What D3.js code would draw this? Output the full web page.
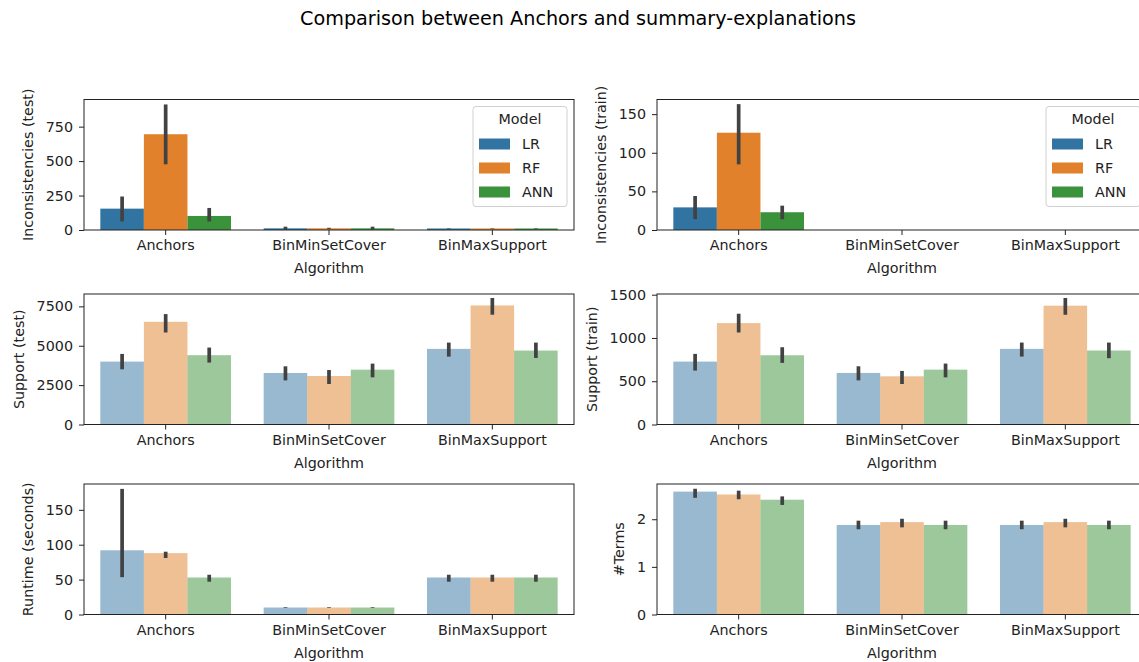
<!DOCTYPE html>
<html>
<head>
<meta charset="utf-8">
<script src="https://cdn.jsdelivr.net/npm/d3@7"></script>
<style>
  body { margin: 0; background: #fff; }
  svg { display: block; font-family: "DejaVu Sans", sans-serif; }
</style>
</head>
<body>
<svg id="chart" width="1139" height="662"></svg>
<script>
// ---- data ----
const algorithms = ["Anchors", "BinMinSetCover", "BinMaxSupport"];
const models = ["LR", "RF", "ANN"];

// values indexed [algorithm][model]
const incTestMean  = [[155, 695, 102], [12, 12, 12], [11, 11, 11]];
const incTestLow   = [[62, 477, 62], [4, 8, 4], [9, 9, 9]];
const incTestHigh  = [[243, 911, 160], [24, 16, 24], [13, 13, 13]];

const incTrainMean = [[29.3, 126, 23], [0, 0, 0], [0, 0, 0]];
const incTrainLow  = [[14, 85, 14], [0, 0, 0], [0, 0, 0]];
const incTrainHigh = [[44, 163, 31.5], [0, 0, 0], [0, 0, 0]];

const supTestMean  = [[3993, 6520, 4400], [3270, 3080, 3480], [4800, 7560, 4695]];
const supTestLow   = [[3505, 5840, 3930], [2800, 2570, 2995], [4310, 6970, 4225]];
const supTestHigh  = [[4480, 7010, 4885], [3695, 3460, 3865], [5200, 8030, 5200]];

const supTrainMean = [[727, 1172, 800], [596, 557, 634], [874, 1373, 855]];
const supTrainLow  = [[623, 1063, 712], [510, 468, 545], [785, 1268, 766]];
const supTrainHigh = [[816, 1280, 893], [673, 619, 704], [947, 1462, 947]];

const runMean = [[92, 88, 53], [10, 10, 10], [53, 53, 53]];
const runLow  = [[53.5, 81, 47], [9.5, 9.5, 9.5], [47, 47, 47]];
const runHigh = [[180, 90, 57], [10.5, 10.5, 10.5], [57, 57, 57]];

const termsMean = [[2.58, 2.52, 2.41], [1.88, 1.94, 1.88], [1.88, 1.94, 1.88]];
const termsLow  = [[2.45, 2.42, 2.30], [1.79, 1.83, 1.79], [1.79, 1.83, 1.79]];
const termsHigh = [[2.64, 2.60, 2.48], [1.97, 2.01, 1.97], [1.97, 2.01, 1.97]];

const yLabels = ["Inconsistencies (test)", "Inconsistencies (train)", "Support (test)",
                 "Support (train)", "Runtime (seconds)", "#Terms"];
const yTicks = [[0, 250, 500, 750], [0, 50, 100, 150], [0, 2500, 5000, 7500],
                [0, 500, 1000, 1500], [0, 50, 100, 150], [0, 1, 2]];
const yMax = [947, 169, 8285, 1508, 187, 2.74];
const xLabel = "Algorithm";
const legendTitle = "Model";
const title = "Comparison between Anchors and summary-explanations";

// ---- layout / style ----
const colors = ["#3274a1", "#e1812c", "#3a923a"];
const colLeft = [84, 657];
const axW = 490;
const rowTop = [99.5, 294, 484];
const axH = 130.5;
const fs = 14.3;

const svg = d3.select("#chart");

svg.append("text")
  .attr("x", 578).attr("y", 25)
  .attr("text-anchor", "middle")
  .attr("font-size", 19.2)
  .attr("fill", "#000")
  .text(title);

const panels = [
  {mean: incTestMean, low: incTestLow, high: incTestHigh, alpha: 1, legend: true},
  {mean: incTrainMean, low: incTrainLow, high: incTrainHigh, alpha: 1, legend: true},
  {mean: supTestMean, low: supTestLow, high: supTestHigh, alpha: 0.5, legend: false},
  {mean: supTrainMean, low: supTrainLow, high: supTrainHigh, alpha: 0.5, legend: false},
  {mean: runMean, low: runLow, high: runHigh, alpha: 0.5, legend: false},
  {mean: termsMean, low: termsLow, high: termsHigh, alpha: 0.5, legend: false}
];

panels.forEach((p, idx) => {
  const col = idx % 2, row = Math.floor(idx / 2);
  const x0 = colLeft[col], y0 = rowTop[row];
  const g = svg.append("g").attr("transform", `translate(${x0},${y0})`);

  const x = d3.scaleBand().domain(algorithms).range([0, axW]).paddingInner(0.2).paddingOuter(0.1);
  const xm = d3.scaleBand().domain(models).range([0, x.bandwidth()]);
  const y = d3.scaleLinear().domain([0, yMax[idx]]).range([axH, 0]);

  // bars
  algorithms.forEach((a, i) => {
    models.forEach((m, j) => {
      const v = p.mean[i][j];
      g.append("rect")
        .attr("x", x(a) + xm(m))
        .attr("width", xm.bandwidth())
        .attr("y", y(v))
        .attr("height", Math.max(0, y(0) - y(v)))
        .attr("fill", colors[j])
        .attr("fill-opacity", p.alpha);
    });
  });
  // error bars
  algorithms.forEach((a, i) => {
    models.forEach((m, j) => {
      const lo = p.low[i][j], hi = p.high[i][j];
      if (hi - lo <= 0) return;
      const cx = x(a) + xm(m) + xm.bandwidth() / 2;
      g.append("line")
        .attr("x1", cx).attr("x2", cx)
        .attr("y1", y(lo)).attr("y2", y(hi))
        .attr("stroke", "#424242")
        .attr("stroke-width", 3.7);
    });
  });

  // spines
  g.append("rect").attr("x", 0).attr("y", 0).attr("width", axW).attr("height", axH)
    .attr("fill", "none").attr("stroke", "#222").attr("stroke-width", 1);

  // x axis
  const xa = g.append("g").attr("transform", `translate(0,${axH})`)
    .call(d3.axisBottom(x).tickSize(5).tickPadding(5).tickSizeOuter(0));
  xa.select(".domain").remove();
  xa.selectAll("line").attr("stroke", "#222");
  xa.selectAll("text").attr("font-size", fs).attr("font-family", "DejaVu Sans").attr("fill", "#222");

  g.append("text")
    .attr("x", axW / 2).attr("y", axH + 43)
    .attr("text-anchor", "middle").attr("font-size", fs).attr("fill", "#222")
    .text(xLabel);

  // y axis
  const ya = g.append("g")
    .call(d3.axisLeft(y).tickValues(yTicks[idx]).tickFormat(d3.format("d")).tickSize(5).tickPadding(6).tickSizeOuter(0));
  ya.select(".domain").remove();
  ya.selectAll("line").attr("stroke", "#222");
  ya.selectAll("text").attr("font-size", fs).attr("font-family", "DejaVu Sans").attr("fill", "#222");

  let maxW = 0;
  ya.selectAll("text").each(function() { maxW = Math.max(maxW, this.getComputedTextLength()); });
  const labelX = -11 - maxW - 13;
  g.append("text")
    .attr("transform", `translate(${labelX},${axH / 2}) rotate(-90)`)
    .attr("text-anchor", "middle").attr("font-size", fs).attr("fill", "#222")
    .text(yLabels[idx]);

  // legend
  if (p.legend) {
    const lw = 94, lh = 100;
    const lx = axW - 7 - lw, ly = 7;
    const lg = g.append("g").attr("transform", `translate(${lx},${ly})`);
    lg.append("rect").attr("width", lw).attr("height", lh).attr("rx", 3)
      .attr("fill", "#fff").attr("fill-opacity", 0.8)
      .attr("stroke", "#d0d0d0").attr("stroke-width", 1);
    lg.append("text").attr("x", lw / 2).attr("y", 17).attr("text-anchor", "middle")
      .attr("font-size", fs).attr("fill", "#222").text(legendTitle);
    models.forEach((m, j) => {
      const cy = 37.5 + j * 24;
      lg.append("rect").attr("x", 6).attr("y", cy - 5.5).attr("width", 31).attr("height", 11)
        .attr("fill", colors[j]);
      lg.append("text").attr("x", 49).attr("y", cy).attr("dy", "0.36em")
        .attr("font-size", fs).attr("fill", "#222").text(m);
    });
  }
});
</script>
</body>
</html>
